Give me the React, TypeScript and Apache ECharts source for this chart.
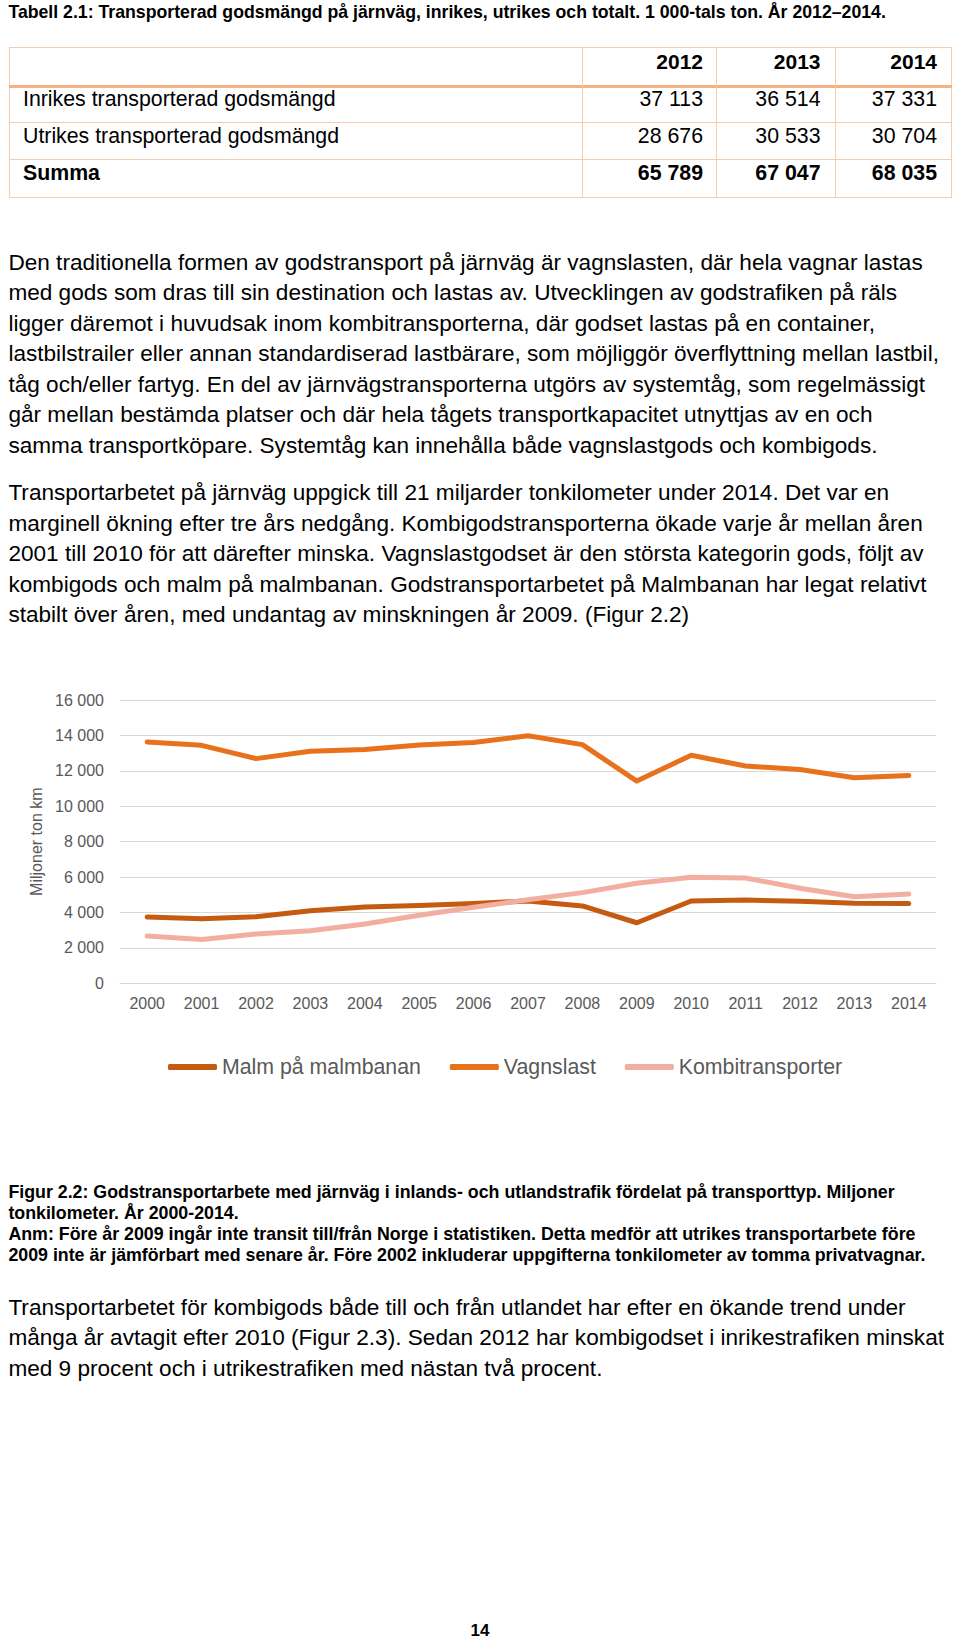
import React, { useEffect, useRef } from "react";
import * as echarts from "echarts";

const FONT = '"Liberation Sans", Arial, Helvetica, sans-serif';

// ---- chart data ----
const years = ["2000", "2001", "2002", "2003", "2004", "2005", "2006", "2007", "2008", "2009", "2010", "2011", "2012", "2013", "2014"];
const malm = [3740, 3650, 3760, 4100, 4310, 4390, 4500, 4650, 4370, 3420, 4650, 4700, 4630, 4520, 4500];
const vagnslast = [13630, 13440, 12690, 13100, 13210, 13460, 13600, 13980, 13480, 11420, 12880, 12270, 12080, 11610, 11730];
const kombi = [2670, 2480, 2790, 2970, 3350, 3840, 4290, 4720, 5120, 5650, 5990, 5950, 5370, 4890, 5040];
const seriesNames = ["Malm på malmbanan", "Vagnslast", "Kombitransporter"];
const seriesColors = ["#c55a11", "#e8711c", "#f2aea0"];
const yAxisName = "Miljoner ton km";

// ---- table data ----
const tableYears = ["2012", "2013", "2014"];
const rowLabels = ["Inrikes transporterad godsmängd", "Utrikes transporterad godsmängd", "Summa"];
const inrikes = ["37 113", "36 514", "37 331"];
const utrikes = ["28 676", "30 533", "30 704"];
const summa = ["65 789", "67 047", "68 035"];

// ---- texts ----
const title = "Tabell 2.1: Transporterad godsmängd på järnväg, inrikes, utrikes och totalt. 1 000-tals ton. År 2012–2014.";
const para1 = [
  "Den traditionella formen av godstransport på järnväg är vagnslasten, där hela vagnar lastas",
  "med gods som dras till sin destination och lastas av. Utvecklingen av godstrafiken på räls",
  "ligger däremot i huvudsak inom kombitransporterna, där godset lastas på en container,",
  "lastbilstrailer eller annan standardiserad lastbärare, som möjliggör överflyttning mellan lastbil,",
  "tåg och/eller fartyg. En del av järnvägstransporterna utgörs av systemtåg, som regelmässigt",
  "går mellan bestämda platser och där hela tågets transportkapacitet utnyttjas av en och",
  "samma transportköpare. Systemtåg kan innehålla både vagnslastgods och kombigods.",
];
const para2 = [
  "Transportarbetet på järnväg uppgick till 21 miljarder tonkilometer under 2014. Det var en",
  "marginell ökning efter tre års nedgång. Kombigodstransporterna ökade varje år mellan åren",
  "2001 till 2010 för att därefter minska. Vagnslastgodset är den största kategorin gods, följt av",
  "kombigods och malm på malmbanan. Godstransportarbetet på Malmbanan har legat relativt",
  "stabilt över åren, med undantag av minskningen år 2009. (Figur 2.2)",
];
const caption = [
  "Figur 2.2: Godstransportarbete med järnväg i inlands- och utlandstrafik fördelat på transporttyp. Miljoner",
  "tonkilometer. År 2000-2014.",
  "Anm: Före år 2009 ingår inte transit till/från Norge i statistiken. Detta medför att utrikes transportarbete före",
  "2009 inte är jämförbart med senare år. Före 2002 inkluderar uppgifterna tonkilometer av tomma privatvagnar.",
];
const para3 = [
  "Transportarbetet för kombigods både till och från utlandet har efter en ökande trend under",
  "många år avtagit efter 2010 (Figur 2.3). Sedan 2012 har kombigodset i inrikestrafiken minskat",
  "med 9 procent och i utrikestrafiken med nästan två procent.",
];
const pageNumber = "14";

const fmt = (v: number) => String(v).replace(/\B(?=(\d{3})+(?!\d))/g, " ");

function Chart() {
  const ref = useRef<HTMLDivElement>(null);
  useEffect(() => {
    const chart = echarts.init(ref.current!, null, { renderer: "svg" });
    const data = [malm, vagnslast, kombi];
    chart.setOption({
      animation: false,
      textStyle: { fontFamily: FONT },
      grid: { left: 120, right: 24, top: 40, bottom: 116.7, containLabel: false },
      legend: {
        data: seriesNames,
        left: 163,
        top: 390,
        icon: "roundRect",
        itemWidth: 49,
        itemHeight: 6,
        itemGap: 29,
        textStyle: { color: "#595959", fontSize: 21.3, fontFamily: FONT, lineHeight: 24 },
      },
      xAxis: {
        type: "category",
        data: years,
        boundaryGap: true,
        axisLine: { show: true, lineStyle: { color: "#d9d9d9", width: 1 } },
        axisTick: { show: false },
        axisLabel: { color: "#595959", fontSize: 16, margin: 12, interval: 0, fontFamily: FONT },
      },
      yAxis: {
        type: "value",
        min: 0,
        max: 16000,
        interval: 2000,
        name: yAxisName,
        nameLocation: "middle",
        nameGap: 72,
        nameRotate: 90,
        nameTextStyle: { color: "#595959", fontSize: 16, fontFamily: FONT },
        axisLine: { show: false },
        axisTick: { show: false },
        axisLabel: { color: "#595959", fontSize: 16, margin: 16, formatter: (v: number) => fmt(v), fontFamily: FONT },
        splitLine: { lineStyle: { color: "#d9d9d9", width: 1 } },
      },
      series: seriesNames.map((name, i) => ({
        name,
        type: "line",
        data: data[i],
        symbol: "none",
        color: seriesColors[i],
        lineStyle: { width: 5, color: seriesColors[i], cap: "round", join: "round" },
        itemStyle: { color: seriesColors[i] },
      })),
    });
    return () => chart.dispose();
  }, []);
  return <div ref={ref} style={{ position: "absolute", left: 0, top: 660, width: 960, height: 440 }} />;
}

type LineProps = { text: string; x?: number; right?: number; cy: number; size: number; bold?: boolean; color?: string };
function TLine({ text, x, right, cy, size, bold, color }: LineProps) {
  const lh = size * 1.2;
  const style: React.CSSProperties = {
    position: "absolute",
    top: cy - lh / 2,
    height: lh,
    lineHeight: lh + "px",
    fontSize: size,
    fontWeight: bold ? 700 : 400,
    whiteSpace: "nowrap",
    color: color || "#000",
  };
  if (right !== undefined) {
    style.right = 960 - right;
    style.textAlign = "right";
  } else {
    style.left = x;
  }
  return <div style={style}>{text}</div>;
}

const BORDER = "#f8cbad";

function Table() {
  const colRights = [703, 820.5, 937];
  const rowCy = [100, 137, 173.5];
  const rowVals = [inrikes, utrikes, summa];
  const els: React.ReactNode[] = [];
  els.push(
    <div key="outer" style={{ position: "absolute", left: 8.5, top: 47, width: 943, height: 150.5, border: `1.5px solid ${BORDER}`, boxSizing: "border-box" }} />
  );
  els.push(<div key="hsep" style={{ position: "absolute", left: 8.5, top: 84.5, width: 943, height: 3, background: "#f4b183" }} />);
  [121.5, 159].forEach((y, i) =>
    els.push(<div key={"r" + i} style={{ position: "absolute", left: 8.5, top: y, width: 943, height: 1, background: BORDER }} />)
  );
  [582, 716, 835].forEach((x, i) =>
    els.push(<div key={"c" + i} style={{ position: "absolute", left: x, top: 47, width: 1, height: 150.5, background: BORDER }} />)
  );
  tableYears.forEach((y, i) => els.push(<TLine key={"h" + i} text={y} right={colRights[i]} cy={61.7} size={21} bold />));
  rowLabels.forEach((lab, r) => {
    const bold = r === 2;
    els.push(<TLine key={"l" + r} text={lab} x={23} cy={rowCy[r]} size={21.3} bold={bold} />);
    rowVals[r].forEach((v, c) => els.push(<TLine key={"v" + r + c} text={v} right={colRights[c]} cy={rowCy[r]} size={21.3} bold={bold} />));
  });
  return <>{els}</>;
}

export default function App() {
  return (
    <div
      style={{
        position: "absolute",
        left: 0,
        top: 0,
        width: 960,
        height: 1639,
        background: "#fff",
        fontFamily: FONT,
        color: "#000",
        overflow: "hidden",
      }}
    >
      <TLine text={title} x={8.4} cy={13} size={17.7} bold />
      <Table />
      {para1.map((t, i) => (
        <TLine key={"p1" + i} text={t} x={8.4} cy={262.5 + i * 30.5} size={22.6} />
      ))}
      {para2.map((t, i) => (
        <TLine key={"p2" + i} text={t} x={8.4} cy={493 + i * 30.5} size={22.6} />
      ))}
      <Chart />
      {caption.map((t, i) => (
        <TLine key={"cap" + i} text={t} x={8.4} cy={1193 + i * 20.8} size={17.8} bold />
      ))}
      {para3.map((t, i) => (
        <TLine key={"p3" + i} text={t} x={8.4} cy={1307.5 + i * 30.3} size={22.6} />
      ))}
      <div style={{ position: "absolute", left: 0, width: 960, top: 1631 - 10.2, height: 20.4, lineHeight: "20.4px", fontSize: 17, fontWeight: 700, textAlign: "center" }}>
        {pageNumber}
      </div>
    </div>
  );
}
